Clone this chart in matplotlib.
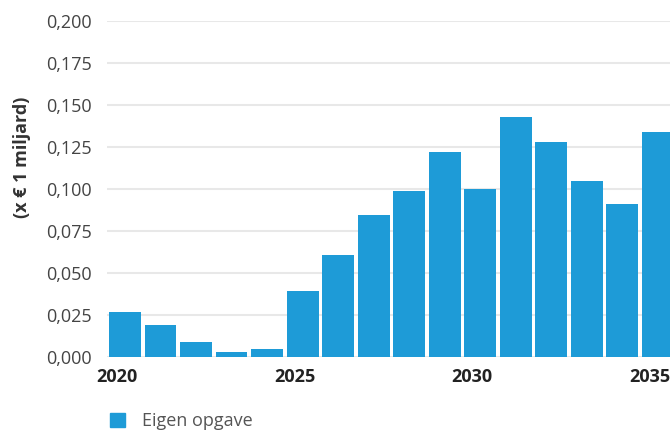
#!/usr/bin/env python3
"""Bar chart: jaarlijkse bedragen (x € 1 miljard), 2020-2035, eigen opgave."""
import matplotlib

matplotlib.use("Agg")
import matplotlib.pyplot as plt
import matplotlib.transforms as mtransforms
from matplotlib.patches import Patch

years = list(range(2020, 2036))
values = [0.0265, 0.0189, 0.0088, 0.0026, 0.0042, 0.0388, 0.0606, 0.0845,
          0.0988, 0.1221, 0.0998, 0.1428, 0.1276, 0.1046, 0.0912, 0.1336]
yticks = [0.0, 0.025, 0.05, 0.075, 0.1, 0.125, 0.15, 0.175, 0.2]
xticks = [2020, 2025, 2030, 2035]
series_name = "Eigen opgave"

BLUE = "#1e9bd7"

plt.rcParams["font.family"] = ["Open Sans", "DejaVu Sans"]

fig = plt.figure(figsize=(6.70, 4.32), dpi=100)
ax = fig.add_axes([107 / 670, 75.5 / 432, 1 - 107 / 670, (356.5 - 21) / 432])

ax.bar(years, values, width=0.9, color=BLUE, zorder=3)

ax.set_ylim(0, 0.2)
ax.set_xlim(2020 - 0.507, 2035.35)
ax.set_yticks(yticks)
ax.set_yticklabels([f"{v:.3f}".replace(".", ",") for v in yticks],
                   fontsize=13, color="#444444")
ax.set_xticks(xticks)
ax.set_xticklabels([str(x) for x in xticks], fontsize=13,
                   fontweight="bold", color="#222222")
ax.tick_params(axis="both", length=0)
ax.tick_params(axis="y", pad=11)
ax.tick_params(axis="x", pad=8)

# labels sit a bit left of the bar centres in the original
shift = mtransforms.ScaledTranslation(-8 / 100, 0, fig.dpi_scale_trans)
for lbl in ax.get_xticklabels():
    lbl.set_transform(lbl.get_transform() + shift)

ax.grid(axis="y", color="#e8e8e8", linewidth=1.5, zorder=0)
ax.set_axisbelow(True)
for s in ax.spines.values():
    s.set_visible(False)

fig.text(22 / 670, 1 - 157 / 432, "(x € 1 miljard)", rotation=90,
         ha="center", va="center", fontsize=13, fontweight="bold",
         color="#333333")

fig.legend(handles=[Patch(color=BLUE, label=series_name)],
           loc="center left", bbox_to_anchor=(110 / 670, 1 - 421 / 432),
           frameon=False, fontsize=13, handlelength=0.85, handleheight=0.85,
           handletextpad=0.95, borderpad=0, borderaxespad=0,
           labelcolor="#555555")

fig.savefig("out.png", dpi=100)
